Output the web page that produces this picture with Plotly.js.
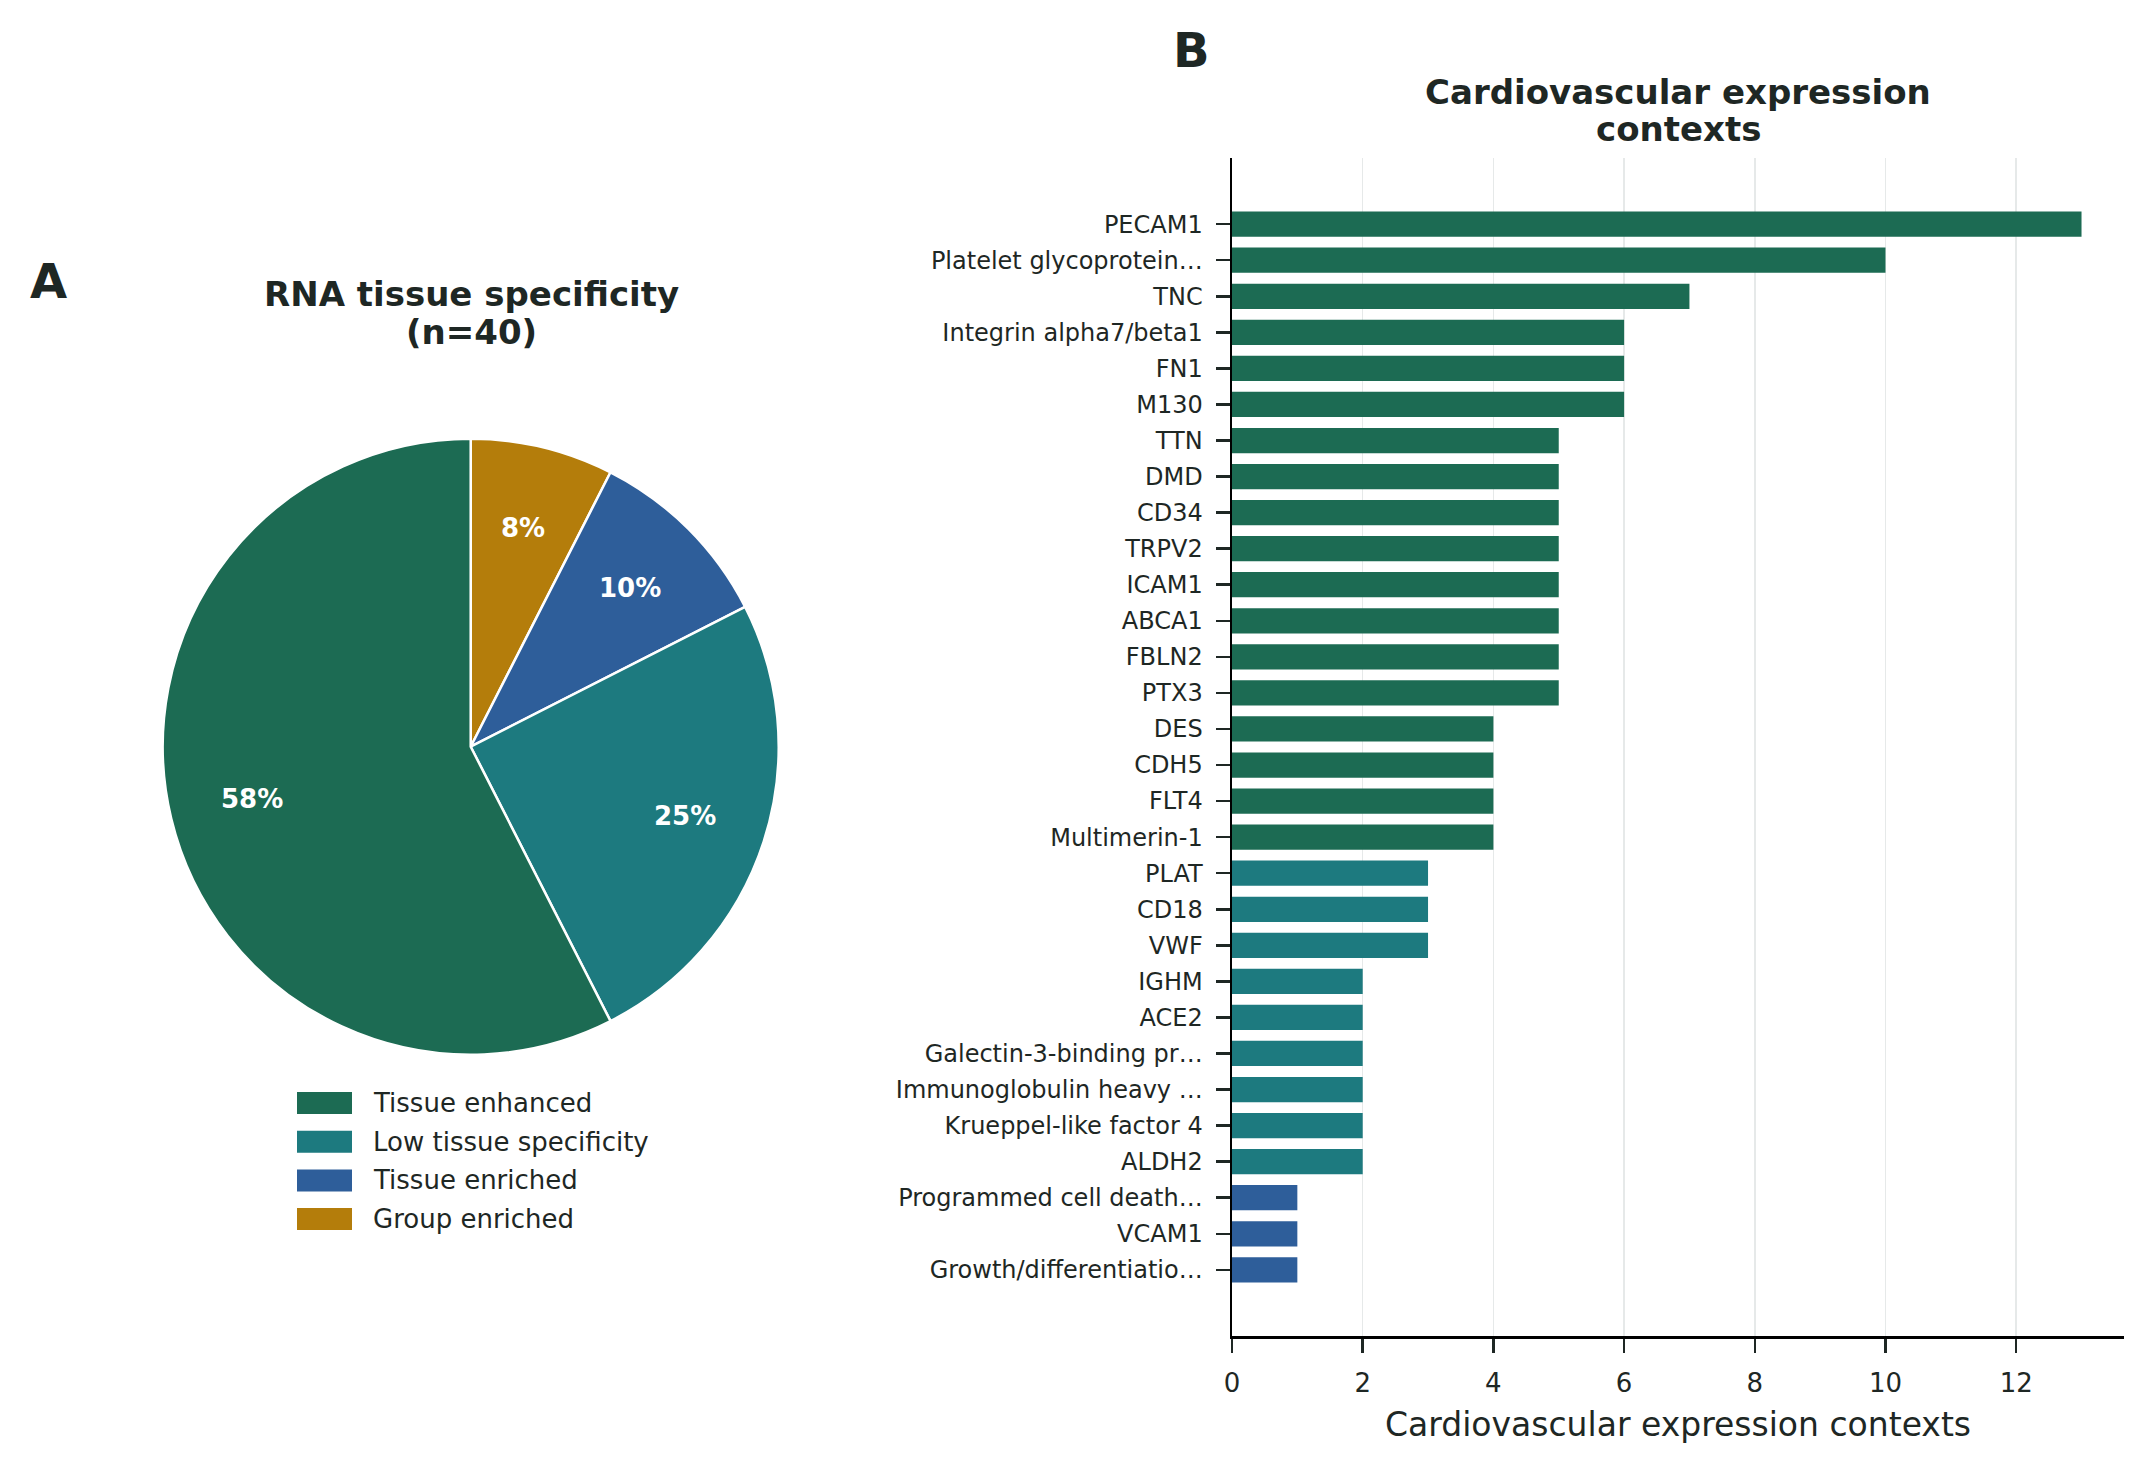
<!DOCTYPE html>
<html><head><meta charset="utf-8">
<script src="https://cdn.plot.ly/plotly-3.0.1.min.js"></script>
<style>html,body{margin:0;padding:0;background:#fff}</style>
</head><body><div id="chart" style="width:2152px;height:1473px"></div>
<script>
// ---- data ----
const pieLabels = ["Tissue enhanced", "Low tissue specificity", "Tissue enriched", "Group enriched"];
const pieCounts = [23, 10, 4, 3];
const categoryColors = ["#1c6b53", "#1d7a7f", "#2e5e9a", "#b47d0b"];

const genes = ["PECAM1", "Platelet glycoprotein…", "TNC", "Integrin alpha7/beta1", "FN1", "M130",
  "TTN", "DMD", "CD34", "TRPV2", "ICAM1", "ABCA1", "FBLN2", "PTX3", "DES", "CDH5", "FLT4",
  "Multimerin-1", "PLAT", "CD18", "VWF", "IGHM", "ACE2", "Galectin-3-binding pr…",
  "Immunoglobulin heavy …", "Krueppel-like factor 4", "ALDH2", "Programmed cell death…",
  "VCAM1", "Growth/differentiatio…"];
const contexts = [13, 10, 7, 6, 6, 6, 5, 5, 5, 5, 5, 5, 5, 5, 4, 4, 4, 4, 3, 3, 3, 2, 2, 2, 2, 2, 2, 1, 1, 1];
const geneCategory = ["Tissue enhanced", "Tissue enhanced", "Tissue enhanced", "Tissue enhanced",
  "Tissue enhanced", "Tissue enhanced", "Tissue enhanced", "Tissue enhanced", "Tissue enhanced",
  "Tissue enhanced", "Tissue enhanced", "Tissue enhanced", "Tissue enhanced", "Tissue enhanced",
  "Tissue enhanced", "Tissue enhanced", "Tissue enhanced", "Tissue enhanced",
  "Low tissue specificity", "Low tissue specificity", "Low tissue specificity",
  "Low tissue specificity", "Low tissue specificity", "Low tissue specificity",
  "Low tissue specificity", "Low tissue specificity", "Low tissue specificity",
  "Tissue enriched", "Tissue enriched", "Tissue enriched"];
const xTickVals = [0, 2, 4, 6, 8, 10, 12];

const titleA = ["RNA tissue specificity", "(n=40)"];
const titleB = ["Cardiovascular expression", "contexts"];
const xAxisTitle = "Cardiovascular expression contexts";

// ---- layout constants (pixels) ----
const W = 2152, H = 1473;
const px = v => v / W;
const py = v => 1 - v / H;
const TXT = "#1e2724";
const FONT = "DejaVu Sans";

const pieCx = 470.7, pieCy = 746.7, pieR = 308;
const barL = 1232, barR = 2124, barT = 158, barB = 1336;

const colorOf = c => categoryColors[pieLabels.indexOf(c)];

// Slices should run counterclockwise from 12 o'clock in the original order;
// drawn clockwise from 12 o'clock in reversed order, which gives the same picture.
const pie = {
  type: "pie",
  labels: pieLabels.slice().reverse(),
  values: pieCounts.slice().reverse(),
  sort: false,
  direction: "clockwise",
  rotation: 0,
  marker: { colors: categoryColors.slice().reverse(), line: { color: "#ffffff", width: 2.5 } },
  textinfo: "none",
  hoverinfo: "label+value+percent",
  showlegend: false,
  domain: { x: [px(pieCx - pieR), px(pieCx + pieR)], y: [py(pieCy + pieR), py(pieCy - pieR)] }
};

const bars = {
  type: "bar",
  orientation: "h",
  y: genes,
  x: contexts,
  marker: { color: geneCategory.map(colorOf), line: { width: 0 } },
  xaxis: "x", yaxis: "y",
  showlegend: false,
  hovertemplate: "%{y}: %{x}<extra></extra>"
};

const annotations = [];
const shapes = [];

// percentage labels on pie slices, from the counts (slices run counterclockwise from 12 o'clock)
const total = pieCounts.reduce((a, b) => a + b, 0);
let cum = 0;
pieCounts.forEach(v => {
  const mid = (cum + v / 2) / total;
  cum += v;
  const ang = (90 + 360 * mid) * Math.PI / 180;
  const d = 0.73 * pieR;
  annotations.push({
    xref: "paper", yref: "paper",
    x: px(pieCx + d * Math.cos(ang)), y: py(pieCy - d * Math.sin(ang)),
    text: Math.round(v * 100 / total) + "%",
    showarrow: false, xanchor: "center", yanchor: "middle",
    font: { family: FONT, size: 26, color: "#ffffff", weight: "bold" }
  });
});

// legend for the pie
pieLabels.forEach((lab, i) => {
  const yc = 1103 + i * 38.7;
  shapes.push({
    type: "rect", xref: "paper", yref: "paper",
    x0: px(297), x1: px(352), y0: py(yc + 11), y1: py(yc - 11),
    fillcolor: categoryColors[i], line: { width: 0 }
  });
  annotations.push({
    xref: "paper", yref: "paper", x: px(371), y: py(yc),
    text: lab, showarrow: false, xanchor: "left", yanchor: "middle",
    font: { family: FONT, size: 26, color: TXT }
  });
});

// titles
const boldTitle = (t, x, y) => ({
  xref: "paper", yref: "paper", x: px(x), y: py(y), text: t, showarrow: false,
  xanchor: "center", yanchor: "middle",
  font: { family: FONT, size: 34, color: TXT, weight: "bold" }
});
annotations.push(boldTitle(titleA[0], 471, 294));
annotations.push(boldTitle(titleA[1], 471, 332));
annotations.push(boldTitle(titleB[0], 1678, 92));
annotations.push(boldTitle(titleB[1], 1678, 129));

// panel letters
annotations.push({ xref: "paper", yref: "paper", x: px(28), y: py(281), text: "A", showarrow: false,
  xanchor: "left", yanchor: "middle", font: { family: FONT, size: 48, color: TXT, weight: "bold" } });
annotations.push({ xref: "paper", yref: "paper", x: px(1171), y: py(50), text: "B", showarrow: false,
  xanchor: "left", yanchor: "middle", font: { family: FONT, size: 48, color: TXT, weight: "bold" } });

const layout = {
  width: W, height: H,
  margin: { l: 0, r: 0, t: 0, b: 0 },
  paper_bgcolor: "#ffffff", plot_bgcolor: "#ffffff",
  font: { family: FONT, color: TXT },
  bargap: 0.3,
  xaxis: {
    domain: [px(barL), px(barR)],
    anchor: "y",
    range: [0, 13.65],
    tickvals: xTickVals,
    ticks: "outside", ticklen: 14, tickwidth: 2.5, tickcolor: TXT,
    ticklabelstandoff: 8,
    tickfont: { family: FONT, size: 26, color: TXT },
    showgrid: true, gridcolor: "#e6e9e9", gridwidth: 1.5,
    zeroline: false,
    showline: true, linecolor: "#000000", linewidth: 3,
    automargin: false,
    title: { text: xAxisTitle, font: { family: FONT, size: 33, color: TXT }, standoff: 16 }
  },
  yaxis: {
    domain: [py(barB), py(barT)],
    anchor: "x",
    type: "category",
    range: [genes.length - 1 + 1.835, -1.835],
    ticks: "outside", ticklen: 14, tickwidth: 2.5, tickcolor: TXT,
    ticklabelstandoff: 8,
    tickfont: { family: FONT, size: 24, color: TXT },
    showgrid: false, zeroline: false,
    showline: true, linecolor: "#000000", linewidth: 2.5,
    automargin: false
  },
  annotations: annotations,
  shapes: shapes
};

Plotly.newPlot("chart", [pie, bars], layout, { displayModeBar: false, staticPlot: true });
</script>
</body></html>
